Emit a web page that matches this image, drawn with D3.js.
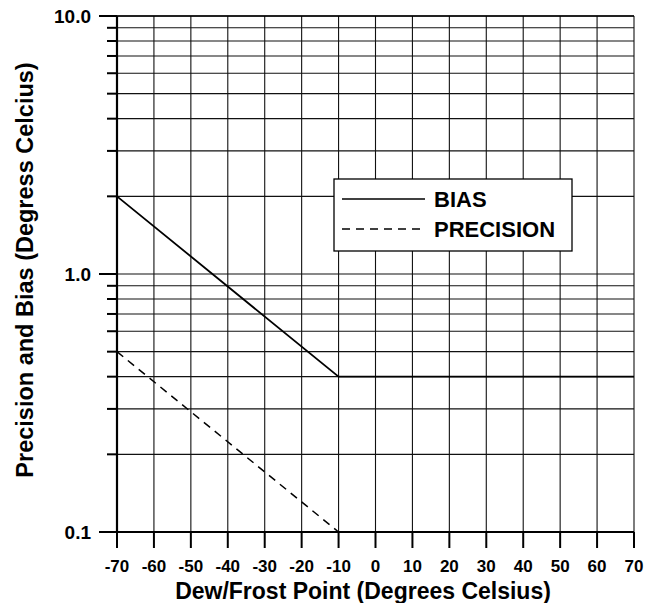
<!DOCTYPE html>
<html>
<head>
<meta charset="utf-8">
<script src="https://cdn.jsdelivr.net/npm/d3@7"></script>
<style>
  body { margin: 0; background: #fff; }
  text { font-family: "Liberation Sans", Arial, sans-serif; font-weight: bold; fill: #000; }
</style>
</head>
<body>
<div id="chart"></div>
<script>
// values
const xTicks = [-70, -60, -50, -40, -30, -20, -10, 0, 10, 20, 30, 40, 50, 60, 70];
const yMajor = [0.1, 1, 10];
const yLabels = ["0.1", "1.0", "10.0"];
const biasX = [-70, -10, 70];
const biasY = [2.0, 0.4, 0.4];
const precX = [-70, -10];
const precY = [0.5, 0.1];

let width = 645, height = 603;
let margin = {left: 117, right: 11, top: 16, bottom: 71};

let svg = d3.select("#chart").append("svg").attr("width", width).attr("height", height);

let x = d3.scaleLinear().domain([-70, 70]).range([margin.left, width - margin.right]);
let y = d3.scaleLog().domain([0.1, 10]).range([height - margin.bottom, margin.top]);

// minor grid values 0.1..10
let yGrid = [];
[0.1, 1].forEach(function (d) {
    for (let k = 1; k < 10; k++) yGrid.push(+(d * k).toFixed(2));
});
yGrid.push(10);

let g = svg.append("g");

// horizontal grid
g.selectAll("line.hg").data(yGrid).join("line")
    .attr("x1", x(-70)).attr("x2", x(70))
    .attr("y1", d => y(d)).attr("y2", d => y(d))
    .attr("stroke", "#111").attr("stroke-width", 1.1);

// vertical grid
g.selectAll("line.vg").data(xTicks).join("line")
    .attr("x1", d => x(d)).attr("x2", d => x(d))
    .attr("y1", y(10)).attr("y2", y(0.1))
    .attr("stroke", "#111").attr("stroke-width", 1.1);

// y ticks (outward)
g.selectAll("line.yt").data(yGrid).join("line")
    .attr("x1", d => yMajor.includes(d) ? x(-70) - 18 : x(-70) - 10).attr("x2", x(-70))
    .attr("y1", d => y(d)).attr("y2", d => y(d))
    .attr("stroke", "#000").attr("stroke-width", 2);

// x ticks (outward)
g.selectAll("line.xt").data(xTicks).join("line")
    .attr("x1", d => x(d)).attr("x2", d => x(d))
    .attr("y1", y(0.1)).attr("y2", y(0.1) + 16)
    .attr("stroke", "#000").attr("stroke-width", 2);

// axis lines
g.append("line").attr("x1", x(-70)).attr("x2", x(-70)).attr("y1", y(10)).attr("y2", y(0.1))
    .attr("stroke", "#000").attr("stroke-width", 2.2);
g.append("line").attr("x1", x(-70)).attr("x2", x(70)).attr("y1", y(0.1)).attr("y2", y(0.1))
    .attr("stroke", "#000").attr("stroke-width", 2.2);
g.append("line").attr("x1", x(-70)).attr("x2", x(70)).attr("y1", y(10)).attr("y2", y(10))
    .attr("stroke", "#000").attr("stroke-width", 1.6);

// tick labels
g.selectAll("text.yl").data(yMajor).join("text")
    .attr("x", x(-70) - 26).attr("y", d => y(d) + 7)
    .attr("text-anchor", "end").attr("font-size", "19px")
    .text((d, i) => yLabels[i]);

g.selectAll("text.xl").data(xTicks).join("text")
    .attr("x", d => x(d)).attr("y", 572)
    .attr("text-anchor", "middle").attr("font-size", "17px")
    .text(d => d);

// axis titles
svg.append("text").attr("x", 363).attr("y", 599)
    .attr("text-anchor", "middle").attr("font-size", "23px")
    .text("Dew/Frost Point (Degrees Celsius)");
svg.append("text")
    .attr("transform", "translate(33,270) rotate(-90)")
    .attr("text-anchor", "middle").attr("font-size", "23.5px")
    .text("Precision and Bias (Degress Celcius)");

// series
let line = d3.line().x(d => x(d[0])).y(d => y(d[1]));
svg.append("path").datum(d3.zip(biasX, biasY)).attr("d", line)
    .attr("fill", "none").attr("stroke", "#000").attr("stroke-width", 1.8);
svg.append("path").datum(d3.zip(precX, precY)).attr("d", line)
    .attr("fill", "none").attr("stroke", "#000").attr("stroke-width", 1.5)
    .attr("stroke-dasharray", "8,6");

// legend
let lg = svg.append("g");
lg.append("rect").attr("x", 334).attr("y", 179).attr("width", 238).attr("height", 72)
    .attr("fill", "#fff").attr("stroke", "#000").attr("stroke-width", 1.3);
lg.append("line").attr("x1", 342).attr("x2", 425).attr("y1", 199).attr("y2", 199)
    .attr("stroke", "#000").attr("stroke-width", 1.5);
lg.append("line").attr("x1", 342).attr("x2", 425).attr("y1", 229).attr("y2", 229)
    .attr("stroke", "#000").attr("stroke-width", 1.5).attr("stroke-dasharray", "8,6");
lg.append("text").attr("x", 434).attr("y", 207).attr("font-size", "22px").text("BIAS");
lg.append("text").attr("x", 434).attr("y", 237).attr("font-size", "22px").text("PRECISION");
</script>
</body>
</html>
